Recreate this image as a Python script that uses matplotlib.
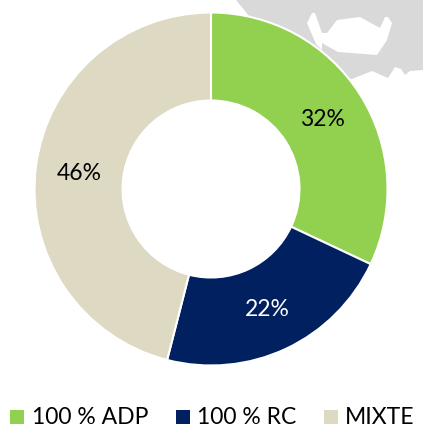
import matplotlib
matplotlib.use('Agg')
import matplotlib.pyplot as plt

categories = ['100 % ADP', '100 % RC', 'MIXTE']
values = [32, 22, 46]
colors = ['#92D050', '#002060', '#DDD9C3']
label_colors = ['black', 'white', 'black']

# grey map shape behind the chart, in reference pixels
map_x = [236, 423, 423, 410, 405, 401, 395, 388, 388, 372, 352, 300]
map_y = [0, 0, 70, 71, 75, 69, 67, 78, 78, 71, 79, 79]
hole_x = [312, 315, 322, 327, 337, 360, 380, 385, 388, 392, 387, 377, 338, 322, 322, 316, 307]
hole_y = [13, 13, 33, 33, 20, 17, 28, 17, 17, 23, 40, 55, 52, 43, 50, 44, 23]

W, H = 423, 433
fig = plt.figure(figsize=(W / 100, H / 100), dpi=100)
ax = fig.add_axes([0, 0, 1, 1])

ax.fill(map_x, [H - y for y in map_y], color='#D9D9D9', lw=0, zorder=0)
ax.fill(hole_x, [H - y for y in hole_y], color='white', lw=0, zorder=1)

wedges, _ = ax.pie(values, colors=colors, startangle=90, counterclock=False,
                   center=(211, H - 189), radius=176.5, frame=True,
                   wedgeprops=dict(width=88, edgecolor='white', linewidth=1.5))
for w in wedges:
    w.set_zorder(2)
ax.set_xlim(0, W)
ax.set_ylim(0, H)
ax.set_aspect('equal')
ax.axis('off')

label_pos = [(322, 119), (267, 310), (79, 174)]
for v, c, (x, y) in zip(values, label_colors, label_pos):
    ax.text(x, H - y, f'{v}%', color=c, fontsize=16.5, family='Lato',
            ha='center', va='center', zorder=3)

legend_x = [(10, 32), (176, 197), (324, 345)]
for name, c, (mx, tx) in zip(categories, colors, legend_x):
    ax.scatter([mx + 6.5], [H - 417], marker='s', s=95, color=c, lw=0, zorder=3)
    ax.text(tx, H - 418, name, color='black', fontsize=16.5, family='Lato',
            ha='left', va='center', zorder=3)

fig.savefig('out.png', dpi=100)
